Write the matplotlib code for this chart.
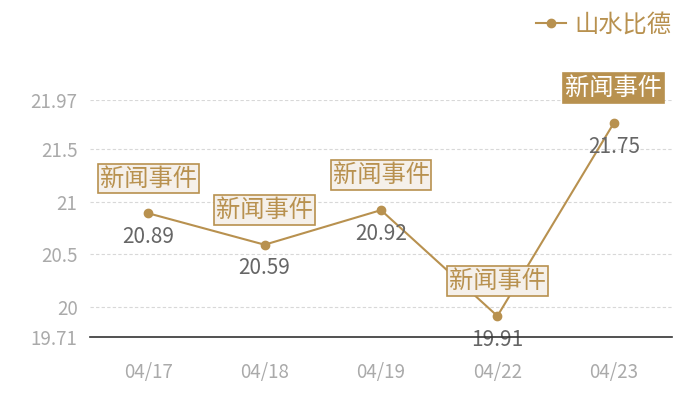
import matplotlib
matplotlib.use("Agg")
import matplotlib.pyplot as plt

plt.rcParams['font.family'] = ['Noto Sans CJK SC', 'DejaVu Sans']
plt.rcParams['font.weight'] = 'light'

# data
dates = ['04/17', '04/18', '04/19', '04/22', '04/23']
values = [20.89, 20.59, 20.92, 19.91, 21.75]
event_labels = ['新闻事件', '新闻事件', '新闻事件', '新闻事件', '新闻事件']
series_name = '山水比德'
y_ticks = [19.71, 20, 20.5, 21, 21.5, 21.97]
y_tick_labels = ['19.71', '20', '20.5', '21', '21.5', '21.97']

gold = '#b8914f'
grey_tick = '#aaaaaa'

fig = plt.figure(figsize=(7, 4), dpi=100)
ax = fig.add_axes([90 / 700, 63 / 400, 582 / 700, 237 / 400])

x = list(range(len(dates)))
line, = ax.plot(x, values, color=gold, lw=1.5, marker='o', ms=6,
                label=series_name, zorder=3)

ax.set_xlim(-0.5, len(dates) - 0.5)
ax.set_ylim(y_ticks[0], y_ticks[-1])
ax.set_xticks(x)
ax.set_xticklabels(dates)
ax.set_yticks(y_ticks)
ax.set_yticklabels(y_tick_labels)
ax.tick_params(length=0, colors=grey_tick, labelsize=13.5)
ax.tick_params(axis='x', pad=18)
ax.tick_params(axis='y', pad=9)

for t in y_ticks[1:]:
    ax.axhline(t, color='#d8d8d8', lw=0.8, ls=(0, (3, 2)), zorder=1)

for s in ['top', 'right', 'left']:
    ax.spines[s].set_visible(False)
ax.spines['bottom'].set_color('#333333')
ax.spines['bottom'].set_linewidth(1.2)
ax.spines['bottom'].set_zorder(6)

# value labels and event boxes
for i, (v, ev) in enumerate(zip(values, event_labels)):
    ax.annotate(f'{v:.2f}', (i, v), xytext=(0, -17), textcoords='offset points',
                ha='center', va='center', fontsize=15, color='#666666',
                zorder=4, annotation_clip=False)
    last = i == len(values) - 1
    ax.annotate(ev, (i, v), xytext=(0, 25), textcoords='offset points',
                ha='center', va='center', fontsize=17.5,
                color='white' if last else gold, zorder=5,
                annotation_clip=False,
                bbox=dict(boxstyle='square,pad=0.08',
                          fc=gold if last else '#f5f0ea',
                          ec=gold, lw=1.2))

leg = fig.legend(handles=[line], loc='upper right',
                 bbox_to_anchor=(0.99, 1.025), frameon=False,
                 fontsize=17.5, handlelength=1.2, handletextpad=0.35)
for t in leg.get_texts():
    t.set_color(gold)

fig.savefig('out.png', dpi=100)
